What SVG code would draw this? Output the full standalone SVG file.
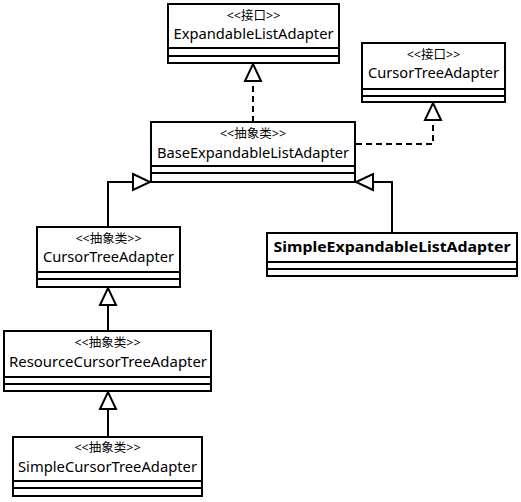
<svg xmlns="http://www.w3.org/2000/svg" width="521" height="502" viewBox="0 0 521 502">
<style>
.box{fill:#fff;stroke:#000;stroke-width:2}
.sep{stroke:#000;stroke-width:2}
.st{font-family:"Noto Sans","Noto Sans CJK SC",sans-serif;font-size:12.5px;text-anchor:middle;fill:#000}
.nm{font-family:"Noto Sans","Noto Sans CJK SC",sans-serif;font-size:15px;text-anchor:middle;fill:#000}
.bd{font-weight:bold}
.con{fill:none;stroke:#000;stroke-width:2}
.dash{stroke-dasharray:6 4}
</style>
<defs>
<marker id="tri" markerUnits="userSpaceOnUse" markerWidth="22" markerHeight="22" viewBox="0 0 22 22" refX="19" refY="11" orient="auto" overflow="visible">
<polygon points="2,3 19,11 2,19" fill="#fff" stroke="#000" stroke-width="2" stroke-dasharray="none"/>
</marker>
</defs>
<rect width="521" height="502" fill="#fff"/>
<g id="connectors">
<path class="con dash" d="M253,122 V64" marker-end="url(#tri)"/>
<path class="con dash" d="M356,144 H433 V103" marker-end="url(#tri)"/>
<path class="con" d="M392,233 V182 H356" marker-end="url(#tri)"/>
<path class="con" d="M108,227 V182 H150" marker-end="url(#tri)"/>
<path class="con" d="M108,331 V288" marker-end="url(#tri)"/>
<path class="con" d="M108,437 V392" marker-end="url(#tri)"/>
</g>
<g id="ExpandableListAdapter">
<rect class="box" x="168" y="4" width="171" height="59"/>
<line class="sep" x1="168" y1="48" x2="339" y2="48"/>
<line class="sep" x1="168" y1="56" x2="339" y2="56"/>
<text class="st" x="253.5" y="20">&lt;&lt;接口&gt;&gt;</text>
<text class="nm" x="253.5" y="39" textLength="160" lengthAdjust="spacingAndGlyphs">ExpandableListAdapter</text>
</g>
<g id="CursorTreeAdapterInterface">
<rect class="box" x="362" y="43" width="143" height="59"/>
<line class="sep" x1="362" y1="89" x2="505" y2="89"/>
<line class="sep" x1="362" y1="96" x2="505" y2="96"/>
<text class="st" x="433.5" y="59">&lt;&lt;接口&gt;&gt;</text>
<text class="nm" x="433.5" y="78" textLength="131" lengthAdjust="spacingAndGlyphs">CursorTreeAdapter</text>
</g>
<g id="BaseExpandableListAdapter">
<rect class="box" x="151" y="122" width="204" height="60"/>
<line class="sep" x1="151" y1="166" x2="355" y2="166"/>
<line class="sep" x1="151" y1="173" x2="355" y2="173"/>
<text class="st" x="253" y="138">&lt;&lt;抽象类&gt;&gt;</text>
<text class="nm" x="253" y="158" textLength="192" lengthAdjust="spacingAndGlyphs">BaseExpandableListAdapter</text>
</g>
<g id="SimpleExpandableListAdapter">
<rect class="box" x="267" y="233" width="250" height="43"/>
<line class="sep" x1="267" y1="262" x2="517" y2="262"/>
<line class="sep" x1="267" y1="269" x2="517" y2="269"/>
<text class="nm bd" x="392" y="252" textLength="237" lengthAdjust="spacingAndGlyphs">SimpleExpandableListAdapter</text>
</g>
<g id="CursorTreeAdapter">
<rect class="box" x="37" y="227" width="143" height="60"/>
<line class="sep" x1="37" y1="272" x2="180" y2="272"/>
<line class="sep" x1="37" y1="279" x2="180" y2="279"/>
<text class="st" x="108.5" y="243">&lt;&lt;抽象类&gt;&gt;</text>
<text class="nm" x="108.5" y="262" textLength="131" lengthAdjust="spacingAndGlyphs">CursorTreeAdapter</text>
</g>
<g id="ResourceCursorTreeAdapter">
<rect class="box" x="4" y="331" width="207" height="60"/>
<line class="sep" x1="4" y1="377" x2="211" y2="377"/>
<line class="sep" x1="4" y1="384" x2="211" y2="384"/>
<text class="st" x="107.5" y="347">&lt;&lt;抽象类&gt;&gt;</text>
<text class="nm" x="108" y="367" textLength="198" lengthAdjust="spacingAndGlyphs">ResourceCursorTreeAdapter</text>
</g>
<g id="SimpleCursorTreeAdapter">
<rect class="box" x="13" y="437" width="189" height="59"/>
<line class="sep" x1="13" y1="481" x2="202" y2="481"/>
<line class="sep" x1="13" y1="488" x2="202" y2="488"/>
<text class="st" x="107.5" y="452">&lt;&lt;抽象类&gt;&gt;</text>
<text class="nm" x="107.5" y="472" textLength="179" lengthAdjust="spacingAndGlyphs">SimpleCursorTreeAdapter</text>
</g>
</svg>
